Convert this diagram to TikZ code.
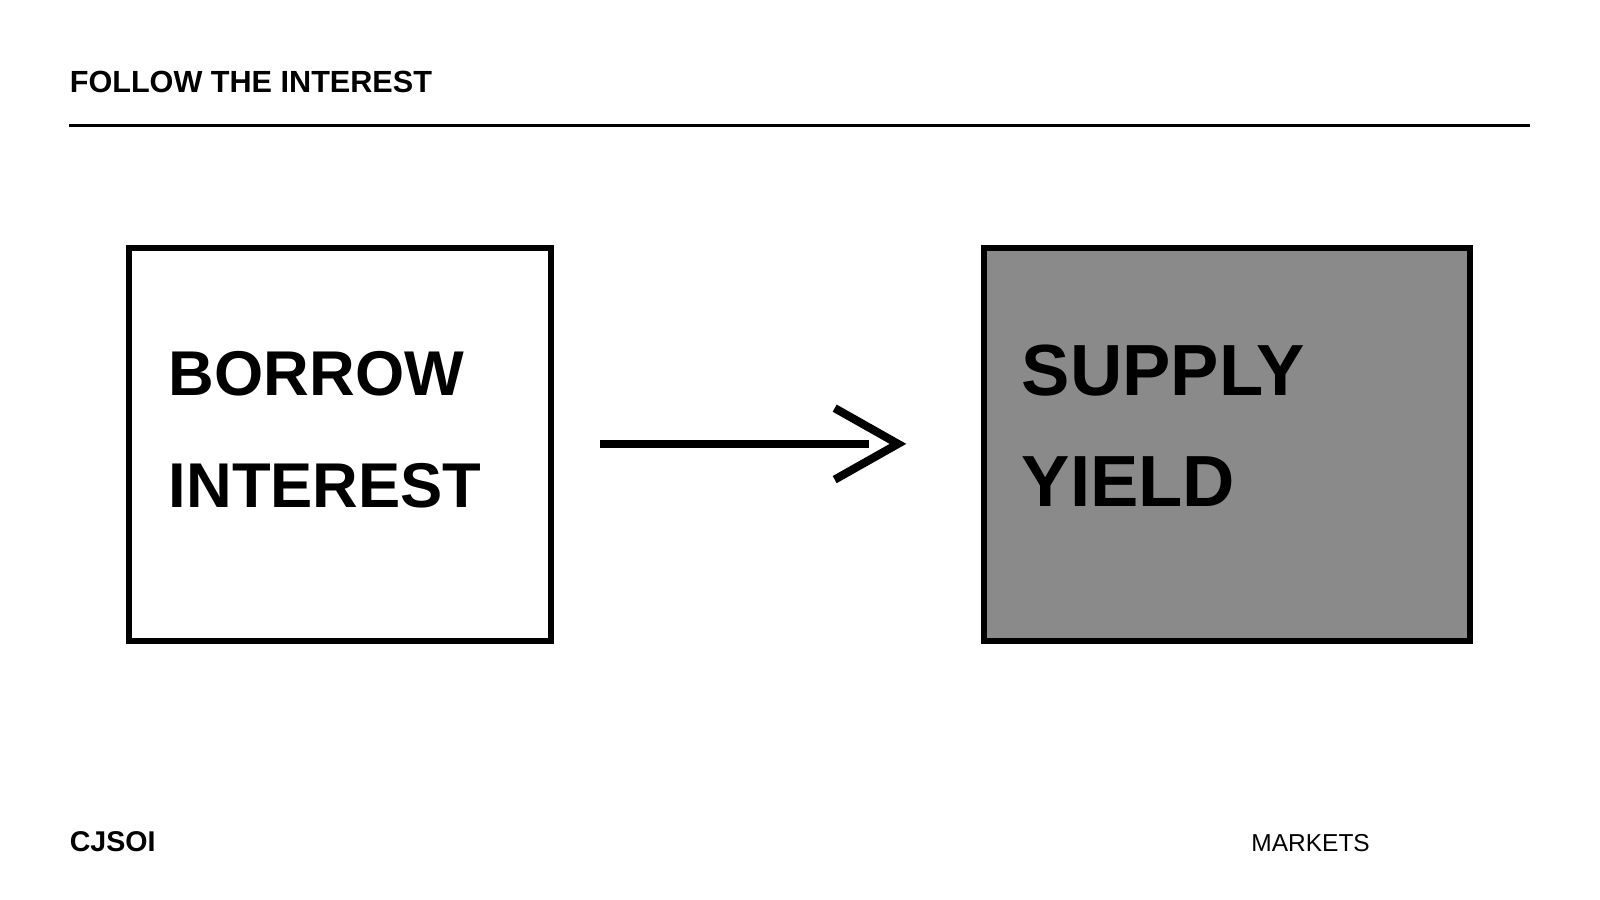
\documentclass[tikz,border=0pt]{standalone}
\usepackage{fontspec}
\setmainfont{Liberation Sans}
\begin{document}
\begin{tikzpicture}[x=0.5pt,y=-0.5pt,
  box/.style={draw=black,line width=3pt},
  lbl/.style={anchor=base west,inner sep=0pt,font=\bfseries\fontsize{31}{36}\selectfont},
  big/.style={anchor=base west,inner sep=0pt,font=\bfseries\fontsize{35.5}{40}\selectfont},
  small/.style={anchor=base west,inner sep=0pt}]
\useasboundingbox (0,0) rectangle (1568,882);
\node[small,font=\bfseries\fontsize{15}{18}\selectfont] (title) at (68,91) {FOLLOW THE INTEREST};
\coordinate (r1) at (68,123); \coordinate (r2) at (1499,123);
\draw[line width=1.5pt] (r1) -- (r2);
\draw[box,fill=white] (126,243) rectangle (540,628);
\draw[box,fill=black!46] (964,243) rectangle (1441,628);
\node[lbl] (b1) at (165,388) {BORROW};
\node[lbl] (b2) at (165,497) {INTEREST};
\node[big] (s1) at (1001,388) {SUPPLY};
\node[big] (s2) at (1001,496) {YIELD};
\coordinate (a) at (588,435); \coordinate (b) at (852,435);
\draw[line width=4pt] (a) -- (b);
\draw[line width=4pt] (818,400) -- (880,435) -- (818,470);
\node[small,font=\bfseries\fontsize{14}{16}\selectfont] (c) at (68,834) {CJSOI};
\node[small,font=\fontsize{12}{15}\selectfont] (m) at (1226,834) {MARKETS};
\end{tikzpicture}
\end{document}
